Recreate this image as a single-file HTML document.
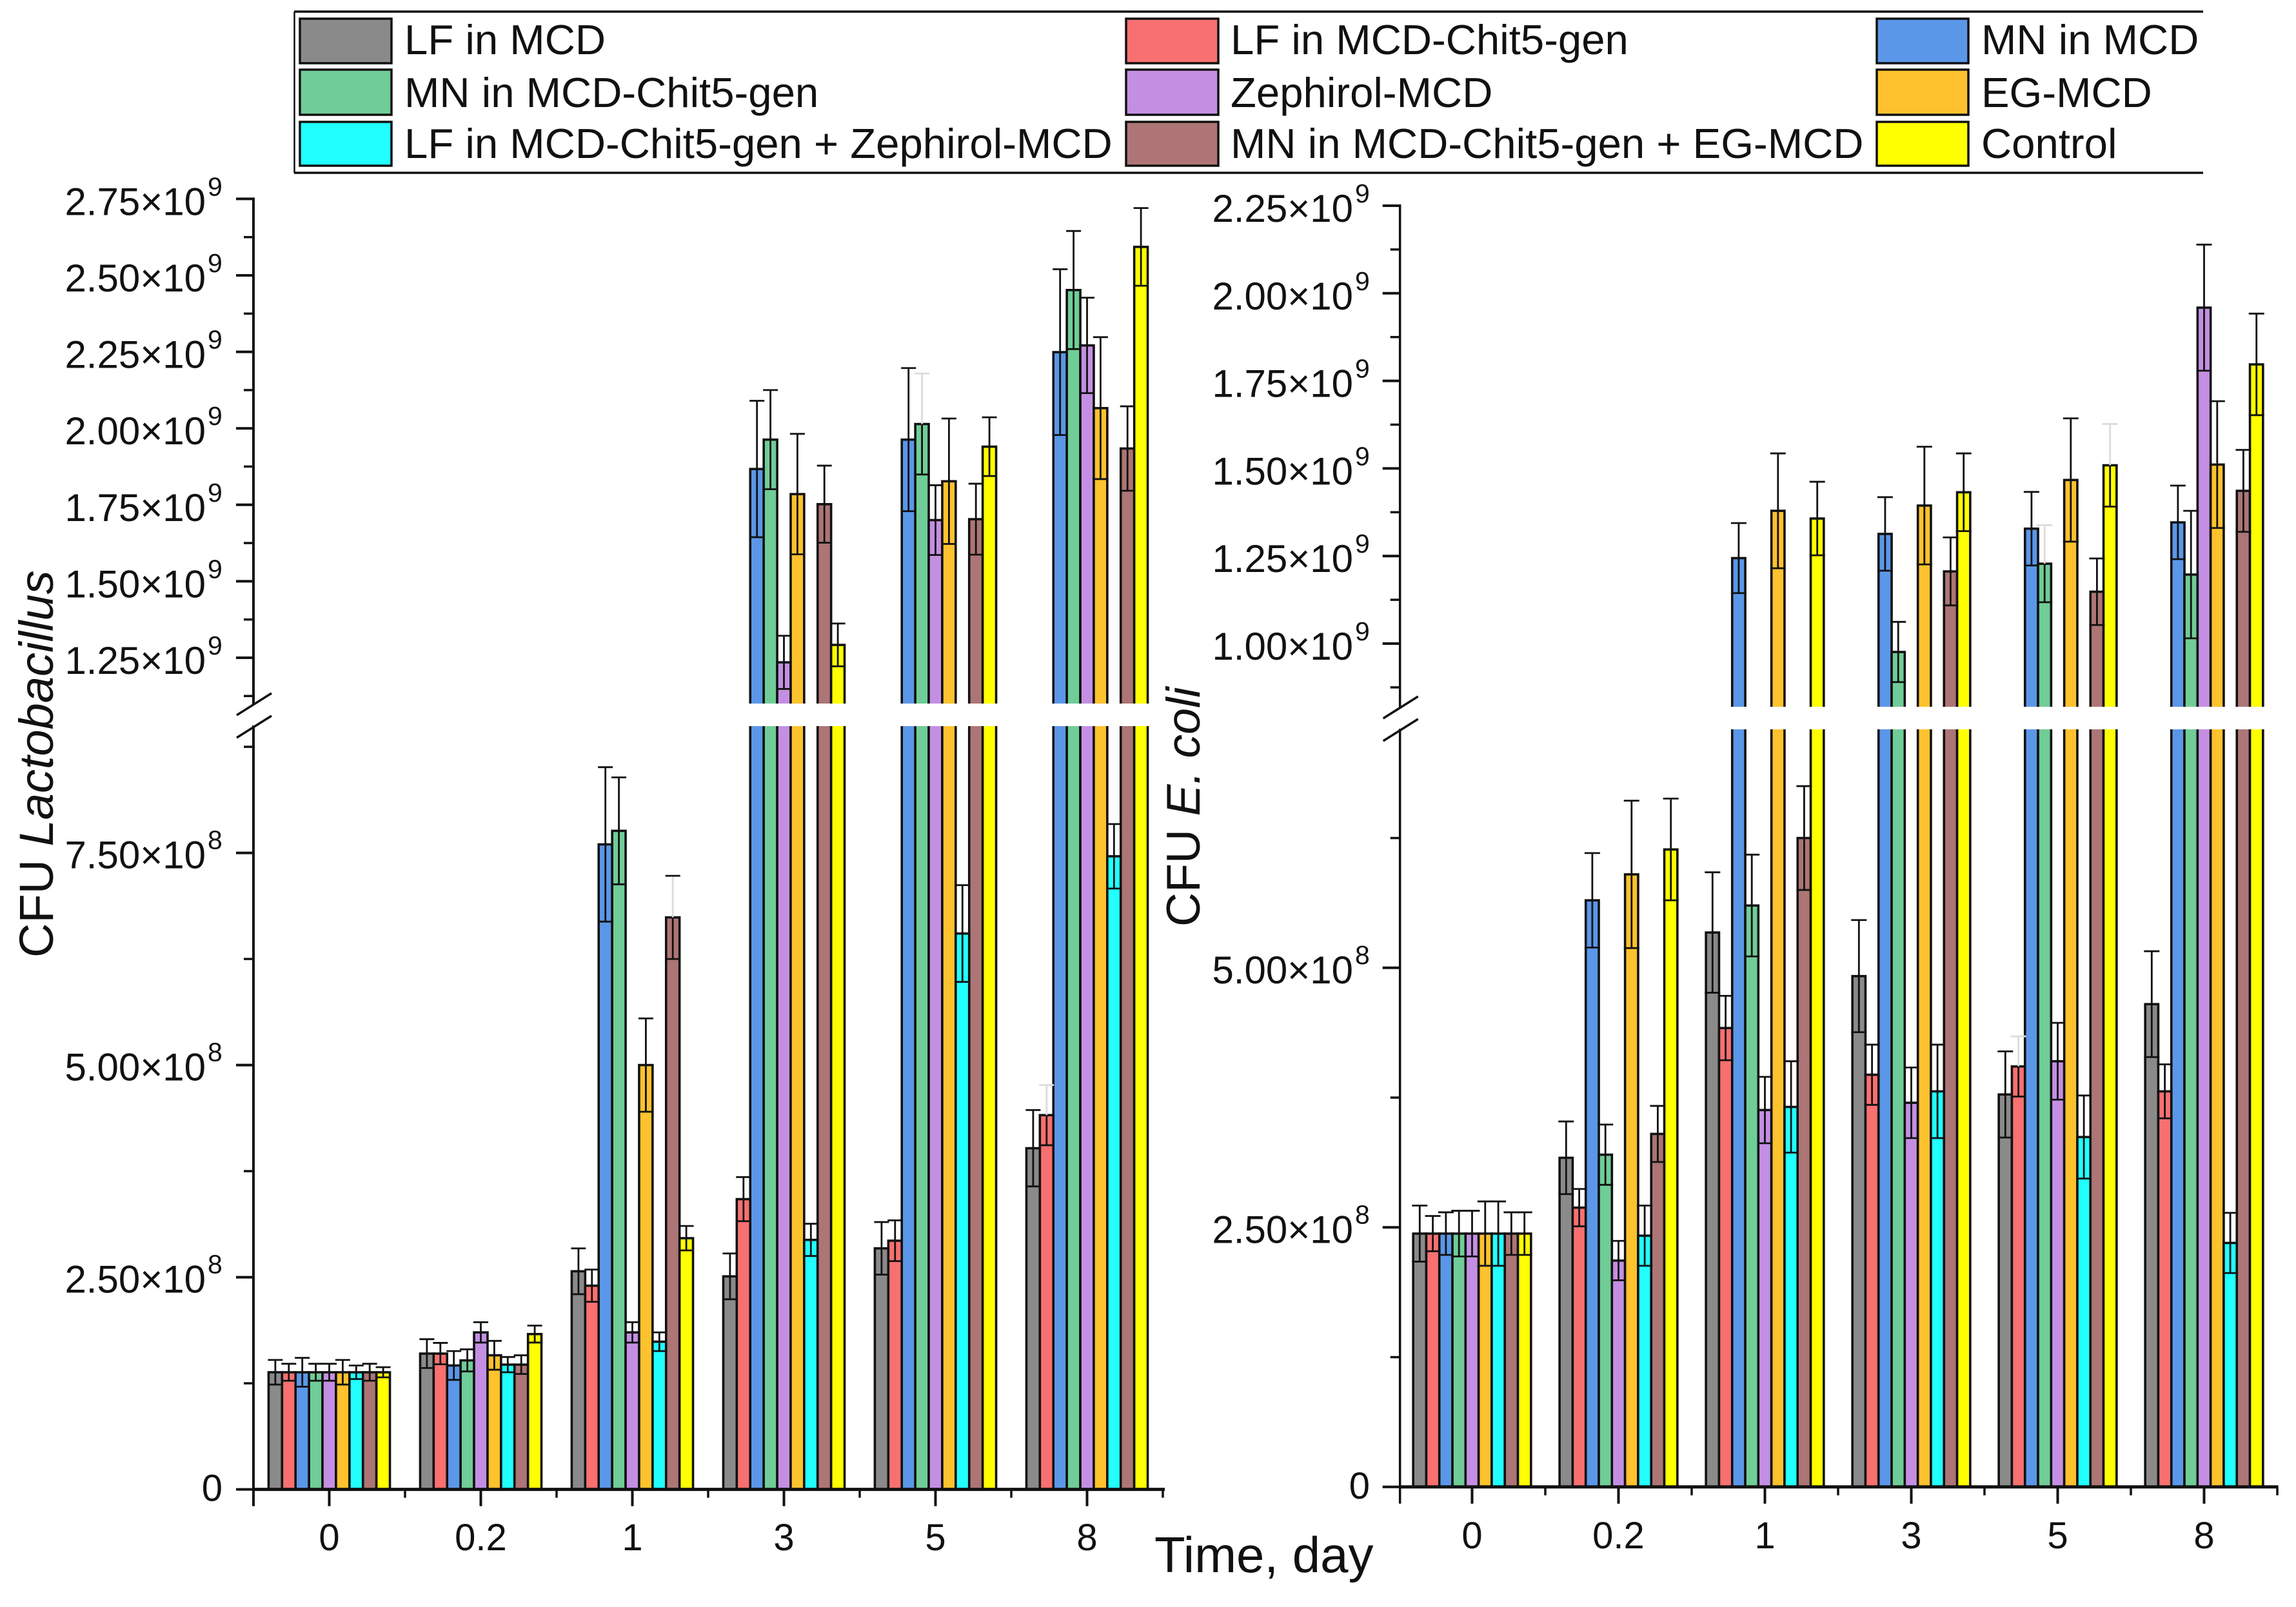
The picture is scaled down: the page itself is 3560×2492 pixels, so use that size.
<!DOCTYPE html>
<html lang="en">
<head>
<meta charset="utf-8">
<title>CFU of Lactobacillus and E. coli over time</title>
<style>
html,body{margin:0;padding:0;background:#fff;}
svg{display:block;}
text{font-family:"Liberation Sans",Arial,sans-serif;fill:#111;}
</style>
</head>
<body>
<svg id="chart" xmlns="http://www.w3.org/2000/svg" width="3560" height="2492" viewBox="0 0 3560 2492">
  <rect x="0" y="0" width="3560" height="2492" fill="#ffffff"/>
  <g id="panels"></g>

  <g>
    <line x1="456" y1="18" x2="3416" y2="18" stroke="#111" stroke-width="3.5"/>
    <line x1="456" y1="268" x2="3416" y2="268" stroke="#111" stroke-width="3.5"/>
    <line x1="456.5" y1="18" x2="456.5" y2="268" stroke="#111" stroke-width="2.5"/>

    <rect x="465" y="29" width="142" height="69" fill="#8a8a8a" stroke="#111" stroke-width="3.5"/>
    <text x="627" y="84" font-size="65.3">LF in MCD</text>
    <rect x="1746" y="29" width="143" height="69" fill="#f87070" stroke="#111" stroke-width="3.5"/>
    <text x="1908" y="84" font-size="65.3">LF in MCD-Chit5-gen</text>
    <rect x="2910" y="29" width="142" height="69" fill="#5b97e8" stroke="#111" stroke-width="3.5"/>
    <text x="3072" y="84" font-size="65.3">MN in MCD</text>

    <rect x="465" y="108" width="142" height="70" fill="#70cd97" stroke="#111" stroke-width="3.5"/>
    <text x="627" y="166" font-size="65.3">MN in MCD-Chit5-gen</text>
    <rect x="1746" y="108" width="143" height="70" fill="#c48fe3" stroke="#111" stroke-width="3.5"/>
    <text x="1908" y="166" font-size="65.3">Zephirol-MCD</text>
    <rect x="2910" y="108" width="142" height="70" fill="#fdc22d" stroke="#111" stroke-width="3.5"/>
    <text x="3072" y="166" font-size="65.3">EG-MCD</text>

    <rect x="465" y="189" width="142" height="68" fill="#22ffff" stroke="#111" stroke-width="3.5"/>
    <text x="627" y="245" font-size="65.3">LF in MCD-Chit5-gen + Zephirol-MCD</text>
    <rect x="1746" y="189" width="143" height="68" fill="#ad7575" stroke="#111" stroke-width="3.5"/>
    <text x="1908" y="245" font-size="65.3">MN in MCD-Chit5-gen + EG-MCD</text>
    <rect x="2910" y="189" width="142" height="68" fill="#ffff00" stroke="#111" stroke-width="3.5"/>
    <text x="3072" y="245" font-size="65.3">Control</text>
  </g>

  <text transform="translate(82 1485) rotate(-90)" font-size="74">CFU <tspan font-style="italic">Lactobacillus</tspan></text>
  <text transform="translate(1860 1437) rotate(-90)" font-size="73.5">CFU <tspan font-style="italic">E. coli</tspan></text>
  <text x="1790" y="2438" font-size="78">Time, day</text>
</svg>

<script>
// All values in millions of CFU; order of entries follows `categories`.
const categories = ['0', '0.2', '1', '3', '5', '8'];
const seriesKeys = ['lf-mcd', 'lf-chit', 'mn-mcd', 'mn-chit', 'zephirol', 'eg', 'lf-zephirol', 'mn-eg', 'control'];
const seriesColors = ['#8a8a8a', '#f87070', '#5b97e8', '#70cd97', '#c48fe3', '#fdc22d', '#22ffff', '#ad7575', '#ffff00'];

// Left panel: Lactobacillus means
const lacLfMcd = [138, 160, 257, 251, 284, 402];
const lacLfChit = [138, 160, 240, 342, 293, 441];
const lacMnMcd = [138, 146, 760, 1867, 1963, 2249];
const lacMnChit = [138, 152, 776, 1963, 2014, 2452];
const lacZephirol = [138, 185, 185, 1235, 1700, 2271];
const lacEg = [138, 158, 500, 1785, 1827, 2066];
const lacLfZephirol = [138, 147, 174, 294, 655, 746];
const lacMnEg = [138, 147, 674, 1752, 1703, 1934];
const lacControl = [138, 183, 296, 1292, 1940, 2593];

// Left panel: Lactobacillus error
const lacLfMcdErr = [14.5, 17, 27, 27, 31, 45];
const lacLfChitErr = [10, 12.6, 19, 26, 24, 35.5];
const lacMnMcdErr = [17, 17, 91, 223, 234, 271];
const lacMnChitErr = [10, 13, 63, 162, 165, 193];
const lacZephirolErr = [10, 12, 12, 87, 114, 156];
const lacEgErr = [14.5, 17, 55, 197, 205, 232];
const lacLfZephirolErr = [8, 9, 11, 19, 57, 38];
const lacMnEgErr = [10, 11, 49, 126, 116, 138];
const lacControlErr = [6, 10, 14.4, 70, 96, 127];

// Right panel: E. coli means
const ecoLfMcd = [244, 317, 534, 492, 378, 465];
const ecoLfChit = [244, 269, 442, 397, 405, 381];
const ecoMnMcd = [244, 565, 1244, 1313, 1328, 1346];
const ecoMnChit = [244, 320, 560, 976, 1228, 1197];
const ecoZephirol = [244, 218, 363, 370, 410, 1959];
const ecoEg = [244, 590, 1379, 1394, 1467, 1511];
const ecoLfZephirol = [244, 242, 366, 381, 337, 235];
const ecoMnEg = [244, 340, 625, 1206, 1148, 1436];
const ecoControl = [244, 614, 1357, 1432, 1509, 1797];

// Right panel: E. coli error
const ecoLfMcdErr = [27, 35, 58, 54, 41.5, 51];
const ecoLfChitErr = [17, 18, 31, 29, 29, 26];
const ecoMnMcdErr = [20.5, 45.5, 100, 105, 105, 105];
const ecoMnChitErr = [22, 29, 49, 86, 110, 182];
const ecoZephirolErr = [22, 19, 32, 34, 37, 180];
const ecoEgErr = [31, 71, 164, 168, 176, 181];
const ecoLfZephirolErr = [31, 29, 44, 45, 40, 29];
const ecoMnEgErr = [20.5, 27, 50, 97, 95, 117];
const ecoControlErr = [20.5, 49, 105, 111, 118, 145];

// Upper whiskers and caps that are barely visible: [series index, category index]
const lacFadedWhiskers = [[3, 4], [7, 2], [1, 5]];
const lacFadedCaps = [[3, 4], [1, 5]];
const ecoFadedWhiskers = [[3, 4], [1, 4], [8, 4]];
const ecoFadedCaps = [[3, 4], [1, 4], [8, 4]];

// Axis ticks
const lacUpperTicks = [1250, 1500, 1750, 2000, 2250, 2500, 2750];
const lacUpperLabels = ['1.25', '1.50', '1.75', '2.00', '2.25', '2.50', '2.75'];
const lacUpperMinor = [1125, 1375, 1625, 1875, 2125, 2375, 2625];
const lacLowerTicks = [0, 250, 500, 750];
const lacLowerLabels = ['0', '2.50', '5.00', '7.50'];
const lacLowerMinor = [125, 375, 625, 875];
const ecoUpperTicks = [1000, 1250, 1500, 1750, 2000, 2250];
const ecoUpperLabels = ['1.00', '1.25', '1.50', '1.75', '2.00', '2.25'];
const ecoUpperMinor = [875, 1125, 1375, 1625, 1875, 2125];
const ecoLowerTicks = [0, 250, 500];
const ecoLowerLabels = ['0', '2.50', '5.00'];
const ecoLowerMinor = [125, 375, 625];

const NS = 'http://www.w3.org/2000/svg';
const root = document.getElementById('panels');

function line(parent, x1, y1, x2, y2, w, name, color) {
  const el = document.createElementNS(NS, 'line');
  el.setAttribute('x1', x1);
  el.setAttribute('y1', y1);
  el.setAttribute('x2', x2);
  el.setAttribute('y2', y2);
  el.setAttribute('stroke', color || '#111');
  el.setAttribute('stroke-width', w);
  
  
  parent.appendChild(el);
  return el;
}

function label(parent, x, y, size, anchor, str, name) {
  const el = document.createElementNS(NS, 'text');
  el.setAttribute('x', x);
  el.setAttribute('y', y);
  el.setAttribute('font-size', size);
  el.setAttribute('text-anchor', anchor);
  el.textContent = str;
  
  
  parent.appendChild(el);
  return el;
}

function inList(list, s, i) {
  return list.some(p => p[0] === s && p[1] === i);
}

function drawPanel(cfg) {
  const g = document.createElementNS(NS, 'g');
  
  
  root.appendChild(g);

  // Piecewise y axis functions
  const yLower = v => cfg.baseY - v * cfg.lowerScale;
  const yUpper = v => cfg.refY - (v - cfg.refV) * cfg.upperScale;
  const y = v => (v >= cfg.breakV ? yUpper(v) : yLower(v));
  const xCenter = i => cfg.firstX + i * cfg.stepX;
  const xBar = (i, s) => xCenter(i) + (s - (cfg.means.length - 1) / 2) * cfg.barW;

  // Bars
  cfg.means.forEach((vals, s) => {
    vals.forEach((v, i) => {
      const r = document.createElementNS(NS, 'rect');
      r.setAttribute('x', xBar(i, s) - cfg.barW / 2);
      r.setAttribute('y', y(v));
      r.setAttribute('width', cfg.barW);
      r.setAttribute('height', cfg.baseY - y(v));
      r.setAttribute('fill', seriesColors[s]);
      r.setAttribute('stroke', '#111');
      r.setAttribute('stroke-width', 3.6);
      
      
      g.appendChild(r);
    });
  });

  // Error bars
  cfg.means.forEach((vals, s) => {
    vals.forEach((v, i) => {
      const e = cfg.errs[s][i];
      const cx = xBar(i, s);
      const top = y(v + e);
      const mid = y(v);
      const bot = y(v - e);
      const base = 'error-bar-' + cfg.name + '-' + seriesKeys[s] + '-day-' + categories[i];
      line(g, cx, top, cx, mid, 2.8, base + '-upper-whisker', inList(cfg.fadedWhiskers, s, i) ? '#dcdcdc' : '#111');
      line(g, cx, mid, cx, bot, 2.8, base + '-lower-whisker');
      line(g, cx - cfg.capW / 2, top, cx + cfg.capW / 2, top, 2.8, base + '-upper-cap', inList(cfg.fadedCaps, s, i) ? '#dcdcdc' : '#111');
      line(g, cx - cfg.capW / 2, bot, cx + cfg.capW / 2, bot, 2.8, base + '-lower-cap');
    });
  });

  // White break band across the bars
  const band = document.createElementNS(NS, 'rect');
  band.setAttribute('x', cfg.axisX + 4);
  band.setAttribute('y', cfg.gapTop);
  band.setAttribute('width', cfg.endX - cfg.axisX);
  band.setAttribute('height', cfg.gapBottom - cfg.gapTop);
  band.setAttribute('fill', '#ffffff');
  
  
  g.appendChild(band);

  // Y axis
  line(g, cfg.axisX, yUpper(cfg.upperTicks[cfg.upperTicks.length - 1]) - 2, cfg.axisX, cfg.gapTop + 1, cfg.axisW, cfg.name + '-y-axis-upper');
  line(g, cfg.axisX, cfg.gapBottom - 1, cfg.axisX, cfg.baseY + 26, cfg.axisW, cfg.name + '-y-axis-lower');

  const tickLabel = (v, str, exp, yPos, off) => {
    line(g, cfg.axisX - 27, yPos, cfg.axisX, yPos, 4, cfg.name + '-y-tick-' + v);
    if (str === '0') {
      label(g, cfg.mainEnd + 26, yPos + 18, 58, 'end', '0', cfg.name + '-y-tick-label-0');
      return;
    }
    label(g, cfg.mainEnd, yPos + off, 60, 'end', str + '×10', cfg.name + '-y-tick-label-' + v);
    label(g, cfg.mainEnd + 3, yPos + off - 30, 41, 'start', exp, cfg.name + '-y-tick-exponent-' + v);
  };
  cfg.upperTicks.forEach((v, k) => tickLabel(v, cfg.upperLabels[k], '9', yUpper(v), 25));
  cfg.lowerTicks.forEach((v, k) => tickLabel(v, cfg.lowerLabels[k], '8', yLower(v), 24));
  cfg.upperMinor.forEach(v => line(g, cfg.axisX - 15, yUpper(v), cfg.axisX, yUpper(v), 3.5, cfg.name + '-y-minor-tick-' + v));
  cfg.lowerMinor.forEach(v => line(g, cfg.axisX - 15, yLower(v), cfg.axisX, yLower(v), 3.5, cfg.name + '-y-minor-tick-' + v));

  // Break marks
  line(g, cfg.axisX - 26, cfg.gapTop + 18, cfg.axisX + 28, cfg.gapTop - 16, 3.5, cfg.name + '-axis-break-mark-upper');
  line(g, cfg.axisX - 26, cfg.gapBottom + 18, cfg.axisX + 28, cfg.gapBottom - 16, 3.5, cfg.name + '-axis-break-mark-lower');

  // X axis
  line(g, cfg.axisX - 2, cfg.baseY, cfg.endX + 2, cfg.baseY, 5, cfg.name + '-x-axis');
  categories.forEach((c, i) => {
    line(g, xCenter(i), cfg.baseY, xCenter(i), cfg.baseY + 26, 4, cfg.name + '-x-tick-' + c);
    label(g, xCenter(i), cfg.xLabelY, 58, 'middle', c, cfg.name + '-x-tick-label-' + c);
    const mx = xCenter(i) + cfg.stepX / 2;
    line(g, mx, cfg.baseY, mx, cfg.baseY + 13, 3.5, cfg.name + '-x-minor-tick-' + c);
  });
}

drawPanel({
  name: 'lactobacillus',
  means: [lacLfMcd, lacLfChit, lacMnMcd, lacMnChit, lacZephirol, lacEg, lacLfZephirol, lacMnEg, lacControl],
  errs: [lacLfMcdErr, lacLfChitErr, lacMnMcdErr, lacMnChitErr, lacZephirolErr, lacEgErr, lacLfZephirolErr, lacMnEgErr, lacControlErr],
  fadedWhiskers: lacFadedWhiskers, fadedCaps: lacFadedCaps,
  upperTicks: lacUpperTicks, upperLabels: lacUpperLabels, upperMinor: lacUpperMinor,
  lowerTicks: lacLowerTicks, lowerLabels: lacLowerLabels, lowerMinor: lacLowerMinor,
  baseY: 2309.6, lowerScale: 1.316, refY: 1020, refV: 1250, upperScale: 0.4744, breakV: 1000,
  gapTop: 1091, gapBottom: 1126,
  axisX: 393, axisW: 4, endX: 1804, firstX: 510.5, stepX: 235, barW: 20.9, capW: 23,
  mainEnd: 319, xLabelY: 2404
});

drawPanel({
  name: 'e-coli',
  means: [ecoLfMcd, ecoLfChit, ecoMnMcd, ecoMnChit, ecoZephirol, ecoEg, ecoLfZephirol, ecoMnEg, ecoControl],
  errs: [ecoLfMcdErr, ecoLfChitErr, ecoMnMcdErr, ecoMnChitErr, ecoZephirolErr, ecoEgErr, ecoLfZephirolErr, ecoMnEgErr, ecoControlErr],
  fadedWhiskers: ecoFadedWhiskers, fadedCaps: ecoFadedCaps,
  upperTicks: ecoUpperTicks, upperLabels: ecoUpperLabels, upperMinor: ecoUpperMinor,
  lowerTicks: ecoLowerTicks, lowerLabels: ecoLowerLabels, lowerMinor: ecoLowerMinor,
  baseY: 2305.8, lowerScale: 1.61, refY: 998, refV: 1000, upperScale: 0.5432, breakV: 780,
  gapTop: 1096, gapBottom: 1131,
  axisX: 2170.7, axisW: 3.5, endX: 3530.5, firstX: 2282.5, stepX: 227, barW: 20.3, capW: 24,
  mainEnd: 2098, xLabelY: 2401
});
</script>
</body>
</html>
